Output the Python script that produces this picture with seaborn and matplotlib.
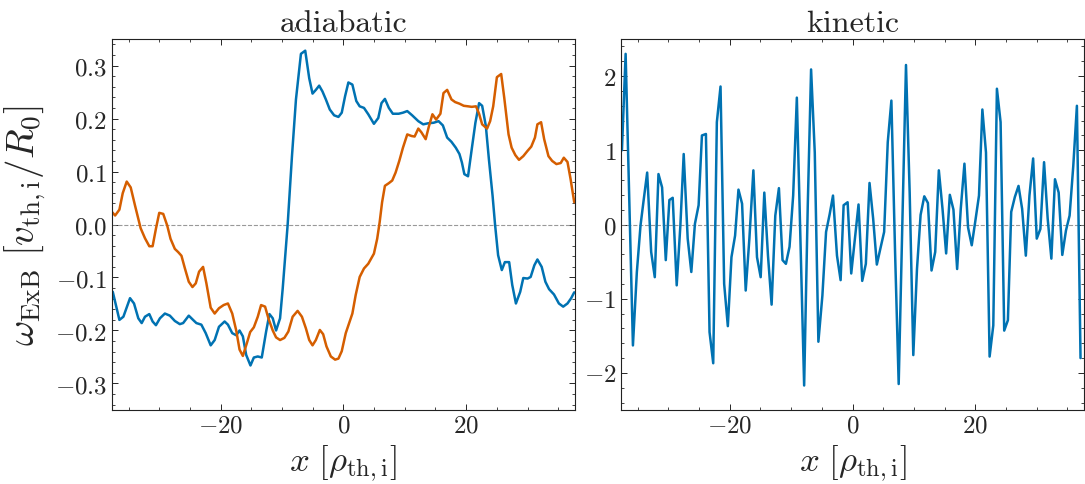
import numpy as np
import pandas as pd
import matplotlib
matplotlib.use("Agg")
import matplotlib.pyplot as plt
from matplotlib.ticker import MultipleLocator
import seaborn as sns

# ---------------- data ----------------
adi_blue_x = [-37.57, -36.49, -35.84, -34.76, -34.11, -33.41, -32.86, -32.32, -31.62, -31.08,
              -30.54, -29.89, -29.08, -28.27, -27.46, -26.65, -26.11, -25.19, -24.49, -23.95,
              -23.14, -22.43, -21.62, -20.97, -20.27, -19.35, -18.81, -18.11, -17.46, -16.92,
              -16.38, -15.84, -15.14, -14.59, -13.95, -13.30, -12.59, -12.05, -11.51, -10.97,
              -10.32, -9.89, -9.08, -8.38, -7.73, -6.92, -6.22, -5.57, -5.03, -4.49,
              -3.95, -3.41, -2.86, -2.22, -1.51, -0.81, -0.27, 0.27, 0.81, 1.46,
              2.10, 2.65, 3.35, 4.05, 4.97, 5.68, 6.20, 6.76, 7.40, 8.05,
              9.00, 9.70, 10.40, 11.20, 12.20, 13.00, 13.80, 14.70, 15.50, 16.20,
              16.90, 17.60, 18.30, 18.90, 19.30, 19.70, 20.30, 20.90, 21.50, 22.10,
              22.60, 23.20, 23.70, 24.30, 24.70, 25.20, 25.80, 26.30, 27.00, 27.50,
              28.10, 28.80, 29.30, 30.00, 30.50, 31.10, 31.60, 32.30, 32.90, 33.50,
              34.30, 35.10, 35.80, 36.50, 37.10, 37.60]
adi_blue_y = [-0.127, -0.180, -0.174, -0.139, -0.149, -0.177, -0.186, -0.174, -0.169, -0.183,
              -0.190, -0.177, -0.168, -0.172, -0.182, -0.188, -0.186, -0.172, -0.180, -0.186,
              -0.189, -0.205, -0.228, -0.218, -0.193, -0.183, -0.189, -0.205, -0.209, -0.200,
              -0.211, -0.246, -0.266, -0.251, -0.249, -0.251, -0.202, -0.169, -0.177, -0.200,
              -0.177, -0.121, 0.000, 0.129, 0.236, 0.322, 0.328, 0.276, 0.247, 0.254,
              0.262, 0.251, 0.236, 0.217, 0.206, 0.203, 0.211, 0.242, 0.268, 0.264,
              0.233, 0.223, 0.220, 0.208, 0.190, 0.201, 0.229, 0.237, 0.220, 0.209,
              0.209, 0.211, 0.214, 0.206, 0.195, 0.189, 0.191, 0.192, 0.195, 0.187,
              0.164, 0.156, 0.145, 0.133, 0.117, 0.095, 0.091, 0.142, 0.192, 0.229,
              0.224, 0.186, 0.123, 0.054, 0.000, -0.058, -0.086, -0.071, -0.071, -0.114,
              -0.149, -0.127, -0.101, -0.102, -0.099, -0.077, -0.066, -0.080, -0.108, -0.122,
              -0.132, -0.149, -0.155, -0.149, -0.139, -0.128]

adi_orange_x = [-37.73, -37.19, -36.49, -35.95, -35.30, -34.65, -33.95, -33.03, -32.32, -31.62,
                -31.08, -30.54, -30.00, -29.35, -28.70, -28.16, -27.46, -26.92, -26.38, -25.84,
                -25.19, -24.59, -24.05, -23.51, -22.86, -22.32, -21.62, -20.97, -20.27, -19.51,
                -18.81, -18.11, -17.46, -16.92, -16.38, -15.73, -15.19, -14.59, -13.95, -13.41,
                -12.76, -12.22, -11.51, -10.97, -10.32, -9.62, -8.97, -8.27, -7.46, -6.76,
                -6.11, -5.57, -5.03, -4.49, -3.84, -3.30, -2.76, -2.05, -1.35, -0.81,
                -0.27, 0.38, 1.46, 2.00, 2.65, 3.35, 4.05, 4.97, 5.50, 5.90,
                6.30, 6.76, 7.40, 7.95, 8.50, 9.10, 9.70, 10.40, 11.10, 11.60,
                12.20, 12.70, 13.40, 13.90, 14.50, 15.10, 15.80, 16.30, 16.90, 17.60,
                18.20, 18.90, 19.60, 20.30, 20.90, 21.60, 22.10, 22.60, 23.40, 23.90,
                24.40, 25.00, 25.70, 26.20, 26.90, 27.40, 28.00, 28.60, 29.30, 30.00,
                30.60, 31.20, 31.60, 32.20, 32.70, 33.40, 34.00, 34.70, 35.40, 35.90,
                36.50, 37.00, 37.60]
adi_orange_y = [0.024, 0.017, 0.028, 0.059, 0.081, 0.070, 0.036, -0.007, -0.026, -0.041,
                -0.041, -0.008, 0.022, 0.020, -0.002, -0.027, -0.046, -0.052, -0.059, -0.082,
                -0.108, -0.118, -0.111, -0.089, -0.080, -0.111, -0.157, -0.168, -0.158, -0.152,
                -0.149, -0.168, -0.200, -0.236, -0.248, -0.224, -0.203, -0.194, -0.174, -0.152,
                -0.155, -0.177, -0.200, -0.213, -0.218, -0.214, -0.202, -0.174, -0.163, -0.174,
                -0.196, -0.218, -0.228, -0.218, -0.199, -0.207, -0.230, -0.249, -0.255, -0.253,
                -0.239, -0.205, -0.168, -0.133, -0.099, -0.083, -0.074, -0.055, -0.027, 0.004,
                0.042, 0.073, 0.078, 0.083, 0.098, 0.120, 0.145, 0.170, 0.167, 0.166,
                0.181, 0.174, 0.161, 0.184, 0.208, 0.198, 0.209, 0.248, 0.254, 0.236,
                0.231, 0.228, 0.224, 0.223, 0.222, 0.223, 0.209, 0.189, 0.181, 0.195,
                0.223, 0.278, 0.284, 0.239, 0.170, 0.145, 0.131, 0.122, 0.129, 0.139,
                0.147, 0.164, 0.189, 0.193, 0.161, 0.129, 0.120, 0.114, 0.116, 0.126,
                0.118, 0.086, 0.042]

kin_x = [-37.57, -36.97, -35.78, -35.14, -34.54, -34.00, -33.46, -32.81, -32.22, -31.62,
         -31.03, -30.43, -29.84, -29.30, -28.65, -28.05, -27.51, -26.86, -26.27, -25.68,
         -25.08, -24.54, -23.89, -23.30, -22.70, -22.11, -21.51, -20.92, -20.32, -19.73,
         -19.14, -18.59, -18.00, -17.41, -16.81, -16.16, -15.57, -14.97, -14.38, -13.78,
         -13.19, -12.59, -12.00, -11.41, -10.86, -10.27, -9.68, -9.08, -8.49, -7.89,
         -7.30, -6.76, -6.16, -5.57, -4.92, -4.32, -3.73, -3.19, -2.54, -1.95,
         -1.46, -0.81, -0.22, 0.38, 0.97, 1.57, 2.16, 2.76, 3.35, 3.95,
         4.54, 5.14, 5.73, 6.32, 6.92, 7.51, 8.11, 8.70, 9.30, 9.89,
         10.49, 11.08, 11.68, 12.27, 12.86, 13.46, 14.05, 14.65, 15.24, 15.84,
         16.43, 17.03, 17.62, 18.22, 18.81, 19.41, 20.00, 20.59, 21.14, 21.73,
         22.32, 22.92, 23.51, 24.11, 24.70, 25.30, 25.84, 26.43, 27.03, 27.62,
         28.22, 28.81, 29.41, 30.00, 30.59, 31.19, 31.78, 32.38, 32.97, 33.57,
         34.16, 34.76, 35.35, 35.95, 36.54, 37.13]
kin_y = [1.00, 2.30, -1.63, -0.64, -0.01, 0.35, 0.70, -0.37, -0.71, 0.68,
         0.50, -0.48, 0.33, 0.36, -0.82, -0.01, 0.95, -0.19, -0.64, 0.01,
         0.26, 1.20, 1.22, -1.45, -1.87, 1.38, 1.86, -0.80, -1.37, -0.44,
         -0.15, 0.47, 0.28, -0.89, -0.19, 0.73, -0.44, -0.71, 0.43, -0.42,
         -1.08, 0.12, 0.49, -0.48, -0.53, -0.30, 0.39, 1.71, -0.22, -2.17,
         0.26, 2.09, 0.97, -1.58, -0.96, -0.10, 0.14, 0.39, -0.42, -0.75,
         0.26, 0.30, -0.66, -0.19, 0.27, -0.76, -0.53, 0.56, 0.08, -0.54,
         -0.32, -0.10, 1.11, 1.67, -0.37, -2.15, 0.03, 2.15, 0.43, -1.76,
         -0.60, 0.13, 0.38, 0.29, -0.62, -0.37, 0.73, 0.21, -0.39, 0.40,
         0.20, -0.60, 0.21, 0.82, -0.04, -0.28, 0.05, 0.39, 1.55, 0.97,
         -1.78, -1.36, 1.83, 1.38, -1.43, -1.29, 0.17, 0.37, 0.52, 0.21,
         -0.42, 0.39, 0.89, -0.19, -0.06, 0.84, 0.08, -0.46, 0.61, 0.43,
         -0.41, -0.08, 0.12, 0.79, 1.60, -1.80]

titles = ["adiabatic", "kinetic"]
x_label = r"$x\ [\rho_{\rm th,i}]$"
y_label = r"$\omega_{\rm ExB}\ [v_{\rm th,i}/R_0]$"

# ---------------- style ----------------
sns.set_theme(style="ticks")
plt.rcParams.update({
    "font.family": "serif",
    "font.serif": ["cmr10", "DejaVu Serif"],
    "mathtext.fontset": "cm",
    "axes.formatter.use_mathtext": True,
    "axes.unicode_minus": True,
    "xtick.direction": "in",
    "ytick.direction": "in",
    "xtick.top": True,
    "ytick.right": True,
    "xtick.major.size": 4,
    "ytick.major.size": 4,
    "xtick.minor.size": 2,
    "ytick.minor.size": 2,
    "xtick.major.width": 0.7,
    "ytick.major.width": 0.7,
    "xtick.minor.width": 0.6,
    "ytick.minor.width": 0.6,
    "axes.linewidth": 0.8,
    "axes.edgecolor": "#222222",
    "xtick.labelsize": 18,
    "ytick.labelsize": 18,
})

blue = "#0072B2"
orange = "#D55E00"

fig, axes = plt.subplots(1, 2, figsize=(10.85, 4.85), dpi=100)
fig.subplots_adjust(left=0.1032, right=0.9991, bottom=0.1526, top=0.9175, wspace=0.1)

ax = axes[0]
ax.axhline(0, color="grey", ls="--", lw=0.8, alpha=0.8, zorder=1)
sns.lineplot(x=adi_blue_x, y=adi_blue_y, ax=ax, color=blue, lw=1.8, estimator=None)
sns.lineplot(x=adi_orange_x, y=adi_orange_y, ax=ax, color=orange, lw=1.8, estimator=None)
ax.set_ylim(-0.35, 0.35)
ax.yaxis.set_major_locator(MultipleLocator(0.1))
ax.yaxis.set_minor_locator(MultipleLocator(0.02))
ax.set_ylabel(y_label, fontsize=28, labelpad=5)

ax = axes[1]
ax.axhline(0, color="grey", ls="--", lw=0.8, alpha=0.8, zorder=1)
sns.lineplot(x=kin_x, y=kin_y, ax=ax, color=blue, lw=1.8, estimator=None)
ax.set_ylim(-2.5, 2.5)
ax.yaxis.set_major_locator(MultipleLocator(1))
ax.yaxis.set_minor_locator(MultipleLocator(0.2))

for ax, t in zip(axes, titles):
    ax.set_xlim(-37.7, 37.7)
    ax.xaxis.set_major_locator(MultipleLocator(20))
    ax.xaxis.set_minor_locator(MultipleLocator(5))
    ax.tick_params(which="both", direction="in", top=True, right=True)
    ax.set_title(t, fontsize=23)
    ax.set_xlabel(x_label, fontsize=25)

fig.savefig("out.png", dpi=100)
